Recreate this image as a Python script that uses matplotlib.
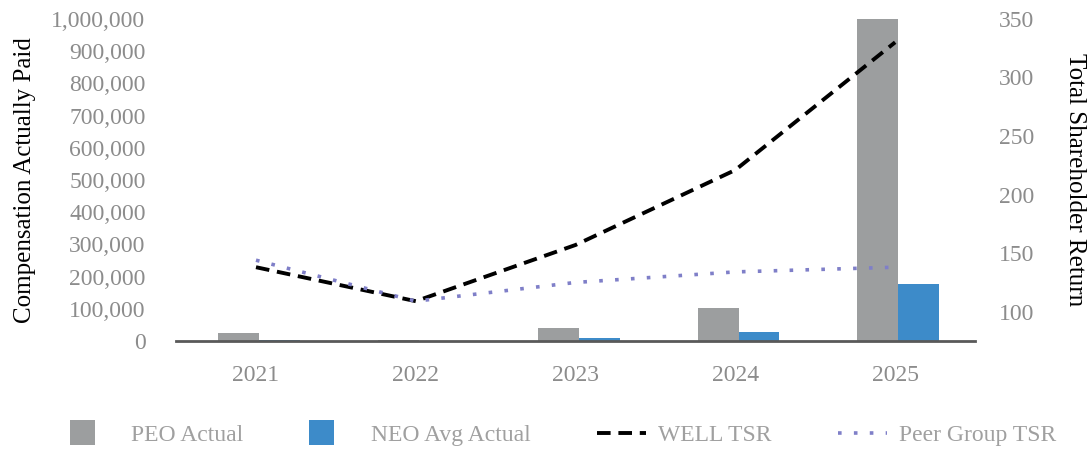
import numpy as np
import matplotlib.pyplot as plt
import matplotlib.patches as mpatches
from matplotlib.legend_handler import HandlerPatch
from matplotlib.ticker import FuncFormatter

plt.rcParams['font.family'] = ['Liberation Serif', 'DejaVu Serif']

years = ['2021', '2022', '2023', '2024', '2025']
peo_actual = [25000, 3000, 41000, 103000, 1000000]
neo_avg_actual = [3000, 1000, 10000, 28000, 177000]
well_tsr = [138, 109, 157, 221, 330]
peer_tsr = [144, 109, 125, 134, 138]

gris = '#9C9E9F'
azul = '#3D8BC9'
violeta = '#7F7FC8'
texto = '#8C8C8C'


class HandlerCuadro(HandlerPatch):
    # cuadrado alineado a la izquierda, como en Excel
    def create_artists(self, legend, orig_handle, xdescent, ydescent,
                       width, height, fontsize, trans):
        lado = height * 1.5
        p = mpatches.Rectangle((-xdescent, -ydescent - (lado - height) / 2), lado, lado,
                               facecolor=orig_handle.get_facecolor(), edgecolor='none',
                               transform=trans)
        return [p]


fig = plt.figure(figsize=(10.87, 4.49), dpi=100)
ax = fig.add_axes([0.162, 0.2405, 0.735, 0.7175])
ax2 = ax.twinx()

x = np.arange(len(years))
ancho = 0.256
desp = 0.02
b1 = ax.bar(x - ancho / 2 + desp, peo_actual, ancho, color=gris, label='PEO Actual', zorder=2)
b2 = ax.bar(x + ancho / 2 + desp, neo_avg_actual, ancho, color=azul, label='NEO Avg Actual', zorder=2)

l1, = ax2.plot(x, well_tsr, color='black', linestyle=(0, (3.5, 2)), linewidth=2.8, label='WELL TSR')
l2, = ax2.plot(x, peer_tsr, color=violeta, linestyle=(0, (1, 3.4)), linewidth=2.6, label='Peer Group TSR')

ax.set_xlim(-0.5, 4.5)
ax.set_ylim(0, 1000000)
ax.set_yticks(np.arange(0, 1000001, 100000))
ax.yaxis.set_major_formatter(FuncFormatter(lambda v, p: f'{int(v):,}'))
ax2.set_ylim(75, 350)
ax2.set_yticks([100, 150, 200, 250, 300, 350])

ax.set_xticks(x)
ax.set_xticklabels(years)

for a in (ax, ax2):
    for s in a.spines.values():
        s.set_visible(False)
ax.spines['bottom'].set_visible(True)
ax.spines['bottom'].set_color('#595959')
ax.spines['bottom'].set_linewidth(2)
ax.spines['bottom'].set_zorder(5)

ax.tick_params(axis='y', length=0, pad=22, labelsize=17, labelcolor=texto)
ax.tick_params(axis='x', length=0, pad=17, labelsize=17, labelcolor=texto)
ax2.tick_params(axis='y', length=0, pad=17, labelsize=17, labelcolor=texto)

ax.set_ylabel('Compensation Actually Paid', fontsize=18, color='black', va='center')
ax.yaxis.set_label_coords(-0.189, 0.5)
ax2.set_ylabel('Total Shareholder Return', fontsize=18, color='black', rotation=-90, va='center')
ax2.yaxis.set_label_coords(1.125, 0.5)

leg = fig.legend([b1[0], b2[0], l1, l2], ['PEO Actual', 'NEO Avg Actual', 'WELL TSR', 'Peer Group TSR'],
                 loc='center', bbox_to_anchor=(0.518, 0.031), ncol=4, frameon=False,
                 fontsize=17, handlelength=2.1, handletextpad=0.5, columnspacing=2.8,
                 handler_map={mpatches.Rectangle: HandlerCuadro()})
for t in leg.get_texts():
    t.set_color('#A0A0A0')

fig.savefig('out.png', dpi=100)
